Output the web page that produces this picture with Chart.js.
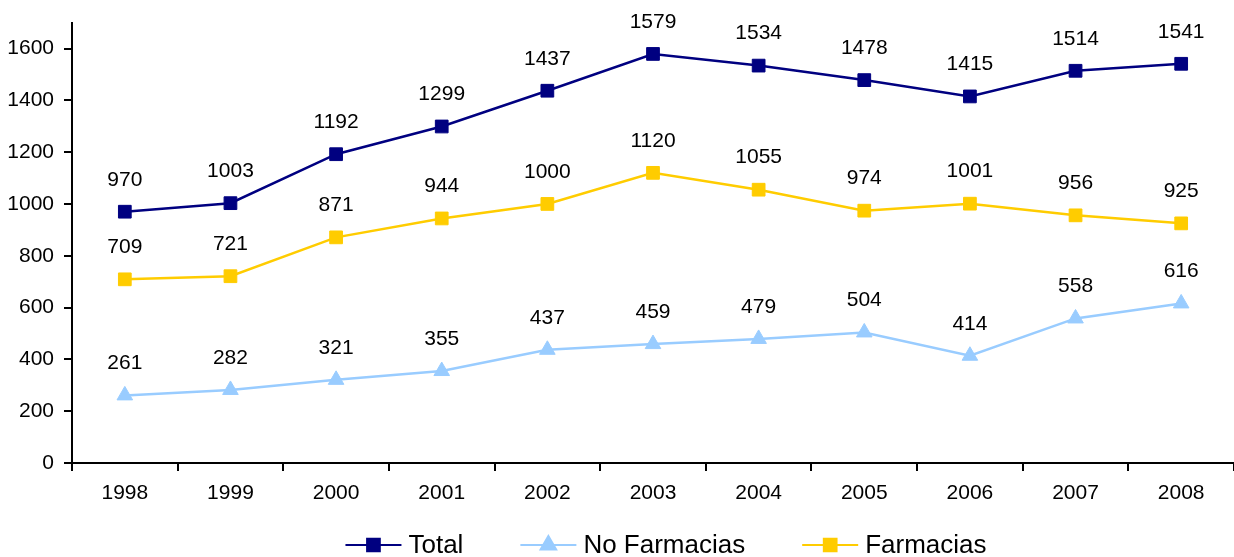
<!DOCTYPE html>
<html>
<head>
<meta charset="utf-8">
<script src="https://cdn.jsdelivr.net/npm/chart.js@4.4.1/dist/chart.umd.min.js"></script>
<style>
  html, body { margin: 0; padding: 0; background: #fff; overflow: hidden; }
  #wrap { position: absolute; left: 0; top: 0; width: 1244px; height: 557px; }
</style>
</head>
<body>
<div id="wrap"><canvas id="chart" width="1244" height="557"></canvas></div>
<script>
// datos
const years = ["1998","1999","2000","2001","2002","2003","2004","2005","2006","2007","2008"];
const total = [970, 1003, 1192, 1299, 1437, 1579, 1534, 1478, 1415, 1514, 1541];
const noFarmacias = [261, 282, 321, 355, 437, 459, 479, 504, 414, 558, 616];
const farmacias = [709, 721, 871, 944, 1000, 1120, 1055, 974, 1001, 956, 925];
const yTicks = [0, 200, 400, 600, 800, 1000, 1200, 1400, 1600];

const FONT = "'Liberation Sans', Arial, sans-serif";
Chart.defaults.font.family = FONT;
Chart.defaults.color = "#000";

// etiquetas de valor encima de cada punto
const valueLabels = {
  id: "valueLabels",
  afterDatasetsDraw(chart) {
    const ctx = chart.ctx;
    ctx.save();
    ctx.font = "21px " + FONT;
    ctx.fillStyle = "#000";
    ctx.textAlign = "center";
    ctx.textBaseline = "middle";
    chart.data.datasets.forEach((ds, i) => {
      chart.getDatasetMeta(i).data.forEach((pt, j) => {
        ctx.fillText(String(ds.data[j]), pt.x, pt.y - 32);
      });
    });
    ctx.restore();
  }
};

// leyenda abajo: línea + marcador + texto
const lineLegend = {
  id: "lineLegend",
  afterDraw(chart) {
    const ctx = chart.ctx;
    const y = 545;
    const lineW = 56, gapText = 7, gapItem = 57;
    ctx.save();
    ctx.font = "26px " + FONT;
    const order = [0, 1, 2];
    let widths = order.map(i => lineW + gapText + ctx.measureText(chart.data.datasets[i].label).width);
    let full = widths.reduce((a, b) => a + b, 0) + gapItem * (order.length - 1);
    let x = 666 - full / 2;
    order.forEach((i, k) => {
      const ds = chart.data.datasets[i];
      ctx.strokeStyle = ds.borderColor;
      ctx.lineWidth = 2;
      ctx.beginPath();
      ctx.moveTo(x, y);
      ctx.lineTo(x + lineW, y);
      ctx.stroke();
      ctx.fillStyle = ds.pointBackgroundColor;
      ctx.strokeStyle = ds.pointBorderColor;
      Chart.helpers.drawPoint(ctx, { pointStyle: ds.pointStyle, radius: ds.pointRadius, borderWidth: 1, rotation: 0 }, x + lineW / 2, y);
      ctx.fillStyle = "#000";
      ctx.textAlign = "left";
      ctx.textBaseline = "middle";
      ctx.fillText(ds.label, x + lineW + gapText, y + 1);
      x += widths[k] + gapItem;
    });
    ctx.restore();
  }
};

new Chart(document.getElementById("chart"), {
  type: "line",
  data: {
    labels: years,
    datasets: [
      {
        label: "Total",
        data: total,
        borderColor: "#000080",
        backgroundColor: "#000080",
        pointBackgroundColor: "#000080",
        pointBorderColor: "#000080",
        pointStyle: "rect",
        pointRadius: 9,
        borderWidth: 2.5,
        pointBorderWidth: 1
      },
      {
        label: "No Farmacias",
        data: noFarmacias,
        borderColor: "#99CCFF",
        backgroundColor: "#99CCFF",
        pointBackgroundColor: "#99CCFF",
        pointBorderColor: "#99CCFF",
        pointStyle: "triangle",
        pointRadius: 9,
        borderWidth: 2.5,
        pointBorderWidth: 1
      },
      {
        label: "Farmacias",
        data: farmacias,
        borderColor: "#FFCC00",
        backgroundColor: "#FFCC00",
        pointBackgroundColor: "#FFCC00",
        pointBorderColor: "#FFCC00",
        pointStyle: "rect",
        pointRadius: 9,
        borderWidth: 2.5,
        pointBorderWidth: 1
      }
    ]
  },
  options: {
    responsive: false,
    animation: false,
    layout: { padding: { top: 20, left: 0, right: 0, bottom: 0 } },
    plugins: {
      legend: { display: false },
      tooltip: { enabled: false }
    },
    scales: {
      x: {
        offset: true,
        grid: { offset: true, drawOnChartArea: false, drawTicks: true, tickLength: 8, color: "#000", lineWidth: 2 },
        border: { display: true, color: "#000", width: 2 },
        ticks: { font: { size: 21 }, padding: 10, maxRotation: 0 },
        afterFit(scale) { scale.height = 94; }
      },
      y: {
        min: 0,
        max: 1700,
        grid: { drawOnChartArea: false, drawTicks: true, tickLength: 8, color: "#000", lineWidth: 2 },
        border: { display: true, color: "#000", width: 2 },
        ticks: { font: { size: 21 }, padding: 10, stepSize: 200, callback: v => String(v) },
        afterBuildTicks(scale) { scale.ticks = yTicks.map(v => ({ value: v })); },
        afterFit(scale) { scale.width = 72; }
      }
    }
  },
  plugins: [valueLabels, lineLegend]
});
</script>
</body>
</html>
